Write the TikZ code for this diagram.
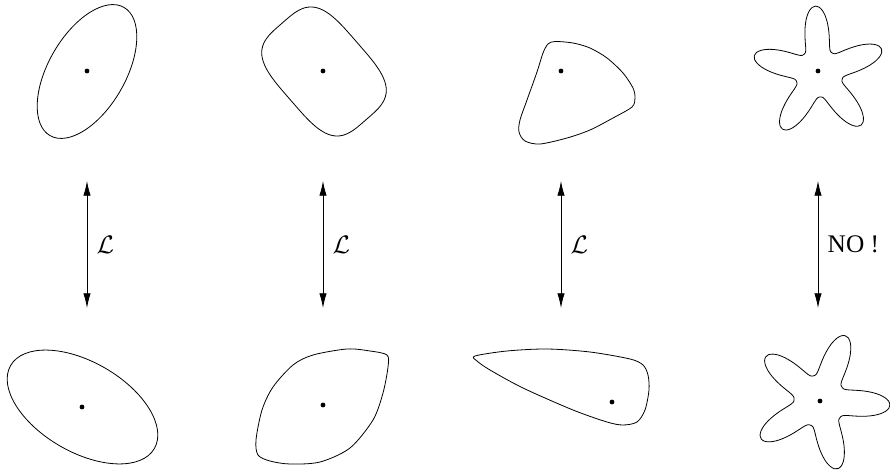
\RequirePackage{fix-cm}
\documentclass[tikz,border=0pt]{standalone}
\usepackage{amsmath,amsfonts,amssymb}
\usepackage{fontspec}
\setmainfont{Liberation Serif}
\usepackage{tikz}
\usetikzlibrary{arrows.meta, calc}

\begin{document}
\begin{tikzpicture}[
  x=0.75pt, y=-0.75pt,
  curve/.style={line width=0.6pt},
  dot/.style={circle, fill, inner sep=0pt, minimum size=3.6pt},
  dblarrow/.style={{Latex[length=11pt,width=5.5pt]}-{Latex[length=11pt,width=5.5pt]}, line width=0.6pt},
  lbl/.style={right, inner sep=0pt, xshift=7pt, font=\fontsize{19}{22}\selectfont}
]
\useasboundingbox (0,0) rectangle (890,470);

% top row
\draw[curve, rotate around={60:(87,71.5)}] (87,71.5) ellipse [x radius=74, y radius=38.5];
\node[dot] (c1) at (87,71) {};

\draw[curve, rotate around={-49:(324,71.5)}] plot[smooth cycle, domain=5:355, samples=36, variable=\t]
  ({324+64*sign(cos(\t))*abs(cos(\t))^0.55}, {71.5+44*sign(sin(\t))*abs(sin(\t))^0.55});
\node[dot] (c2) at (323,71) {};

\draw[curve] plot[smooth cycle] coordinates {(555,41.5) (573,43) (590,48) (607,58) (623,73) (633,88) (635,98)
  (632,107) (613,118) (590,130) (567,138) (540,144) (525,141) (519,132) (520,120) (527,100) (537,72) (543,53) (548,44)};
\node[dot] (c3) at (561,71) {};

\draw[curve] plot[smooth cycle, domain=0:357, samples=120, variable=\t]
  ({819+(24+43*((1+cos(5*(\t-93)))/2)^1.5)*cos(\t)}, {73-(24+43*((1+cos(5*(\t-93)))/2)^1.5)*sin(\t)});
\node[dot] (c4) at (818,71) {};

% bottom row
\draw[curve, rotate around={-30:(82.5,407)}] (82.5,407) ellipse [x radius=83, y radius=45];
\node[dot] (d1) at (82,407) {};

\draw[curve] plot[smooth cycle] coordinates {(387,355) (370,351) (347,349) (313,355) (293,365) (273,387) (262,410)
  (256,440) (258,455) (270,461) (290,464) (320,462) (350,448) (373,420) (383,393) (388,367)};
\node[dot] (d2) at (323,405) {};

\draw[curve] plot[smooth cycle] coordinates {(475,356) (507,351) (547,349) (590,352) (630,359) (643,365) (648,375)
  (649,390) (645,410) (637,422) (623,425) (607,422) (573,410) (523,388) (490,370) (477,361)};
\node[dot] (d3) at (612,402) {};

\draw[curve] plot[smooth cycle, domain=0:357, samples=120, variable=\t]
  ({820+(26+44*((1+cos(5*(\t+3.5)))/2)^1.5)*cos(\t)}, {401-(26+44*((1+cos(5*(\t+3.5)))/2)^1.5)*sin(\t)});
\node[dot] (d4) at (820,401) {};

% arrows
\coordinate (up1) at (87,181);  \coordinate (dn1) at (87,308);
\coordinate (up2) at (323,181); \coordinate (dn2) at (323,308);
\coordinate (up3) at (561,181); \coordinate (dn3) at (561,308);
\coordinate (up4) at (818,181); \coordinate (dn4) at (818,308);

\draw[dblarrow] (up1) -- node[lbl] (l1) {$\mathcal{L}$} (dn1);
\draw[dblarrow] (up2) -- node[lbl] (l2) {$\mathcal{L}$} (dn2);
\draw[dblarrow] (up3) -- node[lbl] (l3) {$\mathcal{L}$} (dn3);
\draw[dblarrow] (up4) -- node[lbl] (l4) {NO !} (dn4);

\end{tikzpicture}
\end{document}
